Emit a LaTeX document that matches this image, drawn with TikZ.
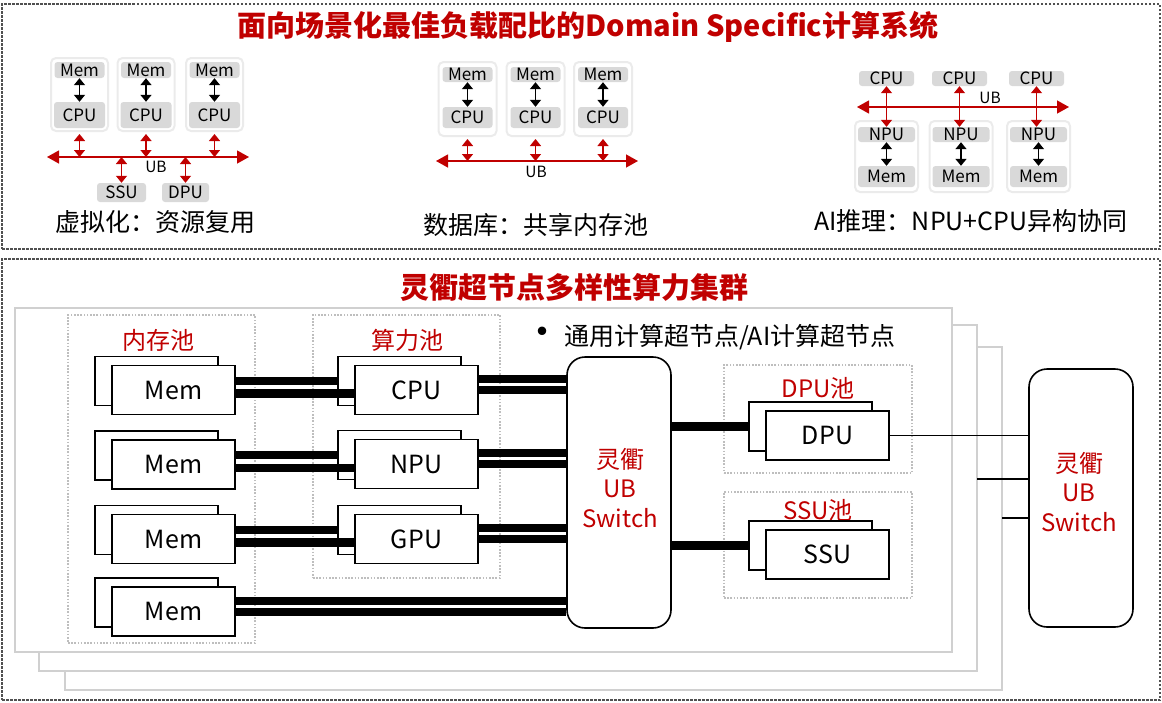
\documentclass[tikz,border=0pt]{standalone}
\usepackage{fontspec}
\setmainfont{Noto Sans CJK SC}
\usetikzlibrary{arrows.meta,calc}
\definecolor{hwred}{RGB}{192,0,0}
\definecolor{lbl}{RGB}{217,217,217}
\definecolor{outl}{RGB}{235,235,235}
\definecolor{frm}{RGB}{208,208,208}
\definecolor{poolc}{RGB}{190,190,190}
\definecolor{edgec}{RGB}{80,80,80}
\begin{document}
\begin{tikzpicture}[x=1pt,y=-1pt,
  outerframe/.style={draw=edgec,line width=1.5pt,dash pattern=on 2.5pt off 1.5pt,inner sep=0pt},
  layer/.style={draw=frm,line width=2pt,fill=white,inner sep=0pt},
  poolframe/.style={draw=poolc,line width=1.2pt,dash pattern=on 1.6pt off 1.6pt,inner sep=0pt},
  unit/.style={draw=black,line width=1.6pt,fill=white,minimum width=123pt,minimum height=49pt,inner sep=0pt,font=\fontsize{25pt}{30pt}\selectfont},
  switchbox/.style={draw=black,line width=1.6pt,fill=white,rounded corners=18pt,inner sep=0pt},
  swtext/.style={text=hwred,align=center,font=\fontsize{24pt}{29.5pt}\selectfont},
  poollbl/.style={text=hwred,font=\fontsize{24pt}{24pt}\selectfont},
  title/.style={text=hwred,font=\fontsize{29pt}{29pt}\selectfont\bfseries},
  caption/.style={font=\fontsize{25pt}{25pt}\selectfont},
  outbox/.style={draw=outl,line width=2pt,rounded corners=5pt,inner sep=0pt},
  tag/.style={fill=lbl,rounded corners=3pt,inner sep=0pt,font=\fontsize{17pt}{17pt}\selectfont},
  ublbl/.style={font=\fontsize{15.5pt}{15.5pt}\selectfont},
  redarr/.style={draw=hwred,line width=1.3pt,{Triangle[length=7pt,width=11pt]}-{Triangle[length=7pt,width=11pt]}},
  ubline/.style={draw=hwred,line width=1.3pt,{Triangle[length=12pt,width=13pt]}-{Triangle[length=12pt,width=13pt]}},
  blkarr/.style={draw=black,line width=1.5pt,{Triangle[length=7pt,width=11pt]}-{Triangle[length=7pt,width=11pt]}},
  link/.style={draw=black,line width=8.5pt},
  thinlink/.style={draw=black,line width=1.8pt}
]
\useasboundingbox (0,0) rectangle (1162,702);

% ---------- outer frames ----------
\node[outerframe,minimum width=1158pt,minimum height=245pt] (topframe) at (581,126.5) {};
\node[outerframe,minimum width=1158pt,minimum height=441pt] (botframe) at (581,479.5) {};

\node[title] (t1) at (588,27) {面向场景化最佳负载配比的Domain Specific计算系统};
\node[title] (t2) at (574,287) {灵衢超节点多样性算力集群};

% ---------- panel 1: virtualization ----------
\coordinate (vubl) at (47,157);
\coordinate (vubr) at (249,157);
\draw[ubline] (vubl) -- (vubr);
\foreach \i/\x in {1/79.5,2/146,3/214.5}{
  \node[outbox,minimum width=57pt,minimum height=73pt] (va\i) at (\x,94.5) {};
  \node[tag,minimum width=50pt,minimum height=16pt] (vm\i) at (\x,70) {Mem};
  \node[tag,minimum width=51pt,minimum height=26pt] (vc\i) at (\x,115) {CPU};
  \draw[blkarr] (vm\i) -- (vc\i);
  \draw[redarr,shorten <=2pt] (va\i.south) -- (va\i.south |- vubl);
}
\node[ublbl] (vub) at (156,167) {UB};
\node[tag,minimum width=49pt,minimum height=19pt] (vssu) at (121.5,192.5) {SSU};
\node[tag,minimum width=47pt,minimum height=19pt] (vdpu) at (185.5,192.5) {DPU};
\draw[redarr] (vssu.north) -- (vssu.north |- vubl);
\draw[redarr] (vdpu.north) -- (vdpu.north |- vubl);
\node[caption] (cap1) at (155,222) {虚拟化：资源复用};

% ---------- panel 2: database ----------
\coordinate (dubl) at (436,161);
\coordinate (dubr) at (638,161);
\draw[ubline] (dubl) -- (dubr);
\foreach \i/\x in {1/467.5,2/535.5,3/603}{
  \node[outbox,minimum width=58pt,minimum height=74pt] (da\i) at (\x,99) {};
  \node[tag,minimum width=50pt,minimum height=15pt] (dm\i) at (\x,74.5) {Mem};
  \node[tag,minimum width=50pt,minimum height=21pt] (dc\i) at (\x,117.5) {CPU};
  \draw[blkarr] (dm\i) -- (dc\i);
  \draw[redarr,shorten <=2pt] (da\i.south) -- (da\i.south |- dubl);
}
\node[ublbl] (dub) at (536,172) {UB};
\node[caption] (cap2) at (536,225) {数据库：共享内存池};

% ---------- panel 3: AI inference ----------
\coordinate (aubl) at (857,107);
\coordinate (aubr) at (1069,107);
\draw[ubline] (aubl) -- (aubr);
\foreach \i/\x/\xc in {1/886.5/886.5,2/961/959.5,3/1038.5/1036.5}{
  \node[tag,minimum width=55pt,minimum height=15pt] (ac\i) at (\xc,78.5) {CPU};
  \node[outbox,minimum width=63pt,minimum height=71pt] (aa\i) at (\x,156.5) {};
  \node[tag,minimum width=57pt,minimum height=15pt] (an\i) at (\x,134.5) {NPU};
  \node[tag,minimum width=57pt,minimum height=21pt] (am\i) at (\x,176.5) {Mem};
  \draw[blkarr] (an\i) -- (am\i);
  \draw[redarr] (ac\i.south) -- (ac\i.south |- an\i.north);
}
\node[ublbl] (aub) at (990,98) {UB};
\node[caption] (cap3) at (971,221) {AI推理：NPU+CPU异构协同};

% ---------- layered super-node frames ----------
\node[layer,minimum width=937pt,minimum height=343pt] (fr3) at (533.5,518.5) {};
\node[layer,minimum width=938pt,minimum height=346pt] (fr2) at (508,498) {};
\node[layer,minimum width=937pt,minimum height=344pt] (fr1) at (483.5,480) {};

% ---------- pools ----------
\node[poolframe,minimum width=187pt,minimum height=328pt] (pmem) at (161.5,479) {};
\node[poolframe,minimum width=187pt,minimum height=263pt] (pcmp) at (406.5,446.5) {};
\node[poolframe,minimum width=188pt,minimum height=108pt] (pdpu) at (818,419) {};
\node[poolframe,minimum width=188pt,minimum height=106pt] (pssu) at (818,545) {};
\node[poollbl] (lmem) at (158,340) {内存池};
\node[poollbl] (lcmp) at (407,340) {算力池};
\node[poollbl] (ldpu) at (818,388) {DPU池};
\node[poollbl] (lssu) at (818,510) {SSU池};

\node[text=black,font=\fontsize{40pt}{40pt}\selectfont,inner sep=0pt] (bul) at (542,337) {•};
\node[anchor=west,font=\fontsize{25pt}{25pt}\selectfont,inner sep=0pt] (btxt) at (564,337) {通用计算超节点/AI计算超节点};

% ---------- switches ----------
\node[switchbox,minimum width=104pt,minimum height=271pt] (sw1) at (619,492.5) {};
\node[swtext] (sw1t) at (620,488) {灵衢\\UB\\Switch};
\node[switchbox,minimum width=104pt,minimum height=258pt] (sw2) at (1081,498) {};
\node[swtext] (sw2t) at (1079,492) {灵衢\\UB\\Switch};

% ---------- units ----------
\foreach \i/\yy in {1/390,2/464.5,3/539,4/611.5}{
  \node[unit] (mb\i) at (156.5,\yy-9) {};
  \node[unit] (mf\i) at (173.5,\yy) {Mem};
}
\foreach \i/\yy/\t in {1/390/CPU,2/464/NPU,3/539/GPU}{
  \node[unit] (cb\i) at (399.5,\yy-9) {};
  \node[unit] (cf\i) at (416.5,\yy) {\t};
}
\node[unit] (db) at (810.5,426.5) {};
\node[unit] (df) at (827.5,435.5) {DPU};
\node[unit] (sb) at (810.5,545.5) {};
\node[unit] (sf) at (827.5,554.5) {SSU};

% ---------- thick links ----------
\foreach \i in {1,2,3}{
  \draw[link] (mf\i.east |- cb\i.west) -- (cb\i.west);
  \coordinate (lo\i) at ([yshift=-3.5pt]mf\i.east);
  \draw[link] (lo\i) -- (lo\i -| cf\i.west);
  \coordinate (hi\i) at ([yshift=11pt]cf\i.east);
  \draw[link] (hi\i) -- (hi\i -| sw1.west);
  \draw[link] (cf\i.east) -- (cf\i.east -| sw1.west);
}
\coordinate (m4a) at ([yshift=10.5pt]mf4.east);
\coordinate (m4b) at ([yshift=-0.5pt]mf4.east);
\draw[link] (m4a) -- (m4a -| sw1.west);
\draw[link] (m4b) -- (m4b -| sw1.west);
\draw[link] (sw1.east |- db.west) -- (db.west);
\draw[link] (sw1.east |- sb.west) -- (sb.west);

% ---------- thin links to the second switch ----------
\draw[thinlink] (df.east) -- (df.east -| sw2.west);
\coordinate (q2) at (977,479);
\coordinate (q3) at (1002,518);
\draw[thinlink] (q2) -- (q2 -| sw2.west);
\draw[thinlink] (q3) -- (q3 -| sw2.west);
\end{tikzpicture}
\end{document}
